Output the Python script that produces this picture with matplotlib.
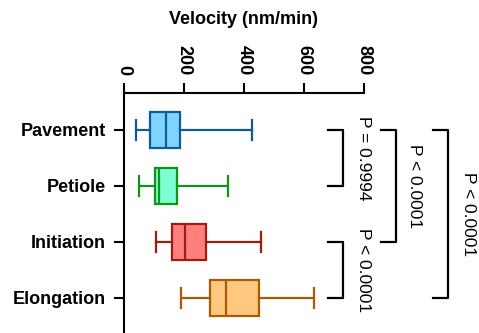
import matplotlib
matplotlib.use("Agg")
import matplotlib.pyplot as plt

plt.rcParams['font.family'] = ['Liberation Sans', 'DejaVu Sans']

# data (nm/min)
categories = ['Pavement', 'Petiole', 'Initiation', 'Elongation']
whislo = [40, 50, 107, 190]
q1 = [87, 103, 160, 287]
med = [140, 117, 203, 340]
q3 = [187, 177, 273, 450]
whishi = [427, 347, 457, 635]

face_colors = ['#7FD4FF', '#7FFFD4', '#FF7F7F', '#FFC87F']
edge_colors = ['#105A9C', '#109418', '#A01C10', '#A85C08']

# comparisons: (group a, group b, bracket x, text x, label)
comparisons = [
    (0, 1, 730, 797, 'P = 0.9994'),
    (2, 3, 730, 797, 'P < 0.0001'),
    (0, 2, 907, 970, 'P < 0.0001'),
    (0, 3, 1080, 1147, 'P < 0.0001'),
]
bracket_arm = 50

fig = plt.figure(figsize=(4.79, 3.33), dpi=100)
ax = fig.add_axes([124 / 479, 0.0, 240 / 479, 240 / 333])

stats = []
for i, name in enumerate(categories):
    stats.append(dict(label=name, whislo=whislo[i], q1=q1[i], med=med[i],
                      q3=q3[i], whishi=whishi[i], fliers=[]))

bp = ax.bxp(stats, positions=range(len(categories)), orientation='horizontal',
            widths=0.64, capwidths=0.36, patch_artist=True, showfliers=False)
for i in range(len(categories)):
    ec = edge_colors[i]
    bp['boxes'][i].set(facecolor=face_colors[i], edgecolor=ec, linewidth=1.6)
    bp['medians'][i].set(color=ec, linewidth=1.6)
    for ln in bp['whiskers'][2 * i:2 * i + 2] + bp['caps'][2 * i:2 * i + 2]:
        ln.set(color=ec, linewidth=1.6)

ax.set_xlim(0, 800)
ax.set_ylim(3.63, -0.66)
ax.xaxis.tick_top()
ax.xaxis.set_label_position('top')
ax.set_xticks([0, 200, 400, 600, 800])
ax.set_xlabel('Velocity (nm/min)', fontsize=13, fontweight='bold', labelpad=15)
for lab in ax.get_xticklabels():
    lab.set_rotation(-90)
    lab.set_fontweight('bold')
    lab.set_fontsize(13)
ax.set_yticks(range(len(categories)))
ax.set_yticklabels(categories, fontsize=13, fontweight='bold')
ax.tick_params(axis='both', width=1.5, length=7, pad=6)
for side in ['right', 'bottom']:
    ax.spines[side].set_visible(False)
for side in ['top', 'left']:
    ax.spines[side].set_linewidth(1.5)

for a, b, bx, tx, label in comparisons:
    ax.plot([bx - bracket_arm, bx, bx, bx - bracket_arm], [a, a, b, b],
            color='black', linewidth=1.6, clip_on=False)
    ax.text(tx, (a + b) / 2, label, rotation=-90, ha='center', va='center',
            fontsize=12.5, clip_on=False)

fig.savefig('out.png', dpi=100)
